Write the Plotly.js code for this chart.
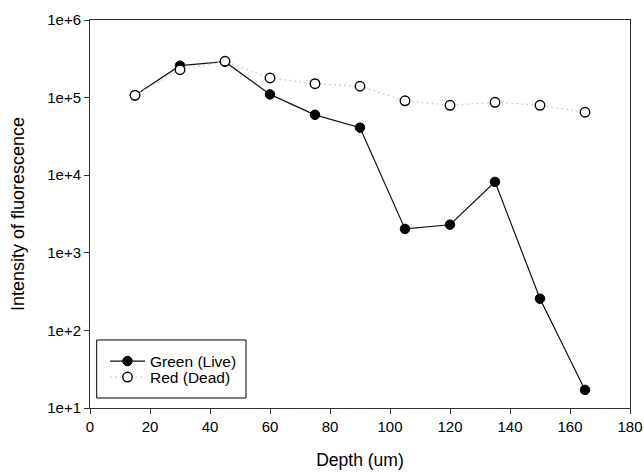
<!DOCTYPE html>
<html>
<head>
<meta charset="utf-8">
<script src="https://cdn.plot.ly/plotly-3.0.1.min.js"></script>
<style>html,body{margin:0;padding:0;background:#fff;}#chart{width:644px;height:472px;}</style>
</head>
<body>
<div id="chart"></div>
<script>
const depth = [15, 30, 45, 60, 75, 90, 105, 120, 135, 150, 165];
const greenLive = [107000, 258000, 290000, 110000, 60000, 41000, 2030, 2300, 8200, 256, 17.1];
const redDead = [107000, 229000, 294000, 179000, 151000, 140000, 91000, 79600, 87000, 79600, 64700];
const yTickVals = [10, 100, 1000, 10000, 100000, 1000000];
const yTickText = ["1e+1", "1e+2", "1e+3", "1e+4", "1e+5", "1e+6"];
const xTickVals = [0, 20, 40, 60, 80, 100, 120, 140, 160, 180];

const font = "Liberation Sans, Arial, sans-serif";
const legFont = {family: font, size: 15.5, color: "#000"};

const traces = [
  {
    x: depth, y: greenLive, name: "Green (Live)", type: "scatter", mode: "lines+markers",
    legend: "legend",
    line: {color: "#111", width: 1.2},
    marker: {symbol: "circle", size: 9.5, color: "#000", line: {color: "#000", width: 1}}
  },
  {
    x: depth, y: redDead, name: "Red (Dead)", type: "scatter", mode: "lines+markers",
    legend: "legend2",
    line: {color: "#cfcfcf", width: 1.2, dash: "2px,3px"},
    marker: {symbol: "circle", size: 9.5, color: "#fff", line: {color: "#000", width: 1.4}}
  }
];

const legendBase = {
  xanchor: "left", yanchor: "top", borderwidth: 0, bgcolor: "rgba(0,0,0,0)",
  font: legFont, itemwidth: 35
};

const layout = {
  width: 644, height: 472,
  margin: {l: 90, r: 14, t: 20, b: 64},
  paper_bgcolor: "#fff", plot_bgcolor: "#fff",
  font: {family: font, size: 15, color: "#000"},
  showlegend: true,
  legend: Object.assign({}, legendBase, {x: 0.0278, y: 0.1637}),
  legend2: Object.assign({}, legendBase, {x: 0.0278, y: 0.1225}),
  shapes: [{
    type: "rect", xref: "paper", yref: "paper",
    x0: 0.0124, x1: 0.2889, y0: 0.0258, y1: 0.1753,
    line: {color: "#000", width: 1}, fillcolor: "rgba(0,0,0,0)", layer: "above"
  }],
  xaxis: {
    range: [0, 180], tickvals: xTickVals, ticktext: xTickVals.map(String),
    showgrid: false, zeroline: false, showline: true, mirror: true,
    linecolor: "#333", linewidth: 1, ticks: "outside", ticklen: 5, tickcolor: "#333",
    tickfont: {family: font, size: 15, color: "#000"},
    title: {text: "Depth (um)", font: {family: font, size: 17.5, color: "#000"}, standoff: 19}
  },
  yaxis: {
    type: "log", range: [1, 6], tickvals: yTickVals, ticktext: yTickText,
    showgrid: false, zeroline: false, showline: true, mirror: true,
    linecolor: "#333", linewidth: 1, ticks: "outside", ticklen: 5, tickcolor: "#333",
    tickfont: {family: font, size: 15, color: "#000"},
    title: {text: "Intensity of fluorescence", font: {family: font, size: 18, color: "#000"}, standoff: 17}
  }
};

Plotly.newPlot("chart", traces, layout, {displayModeBar: false, staticPlot: true});
</script>
</body>
</html>
